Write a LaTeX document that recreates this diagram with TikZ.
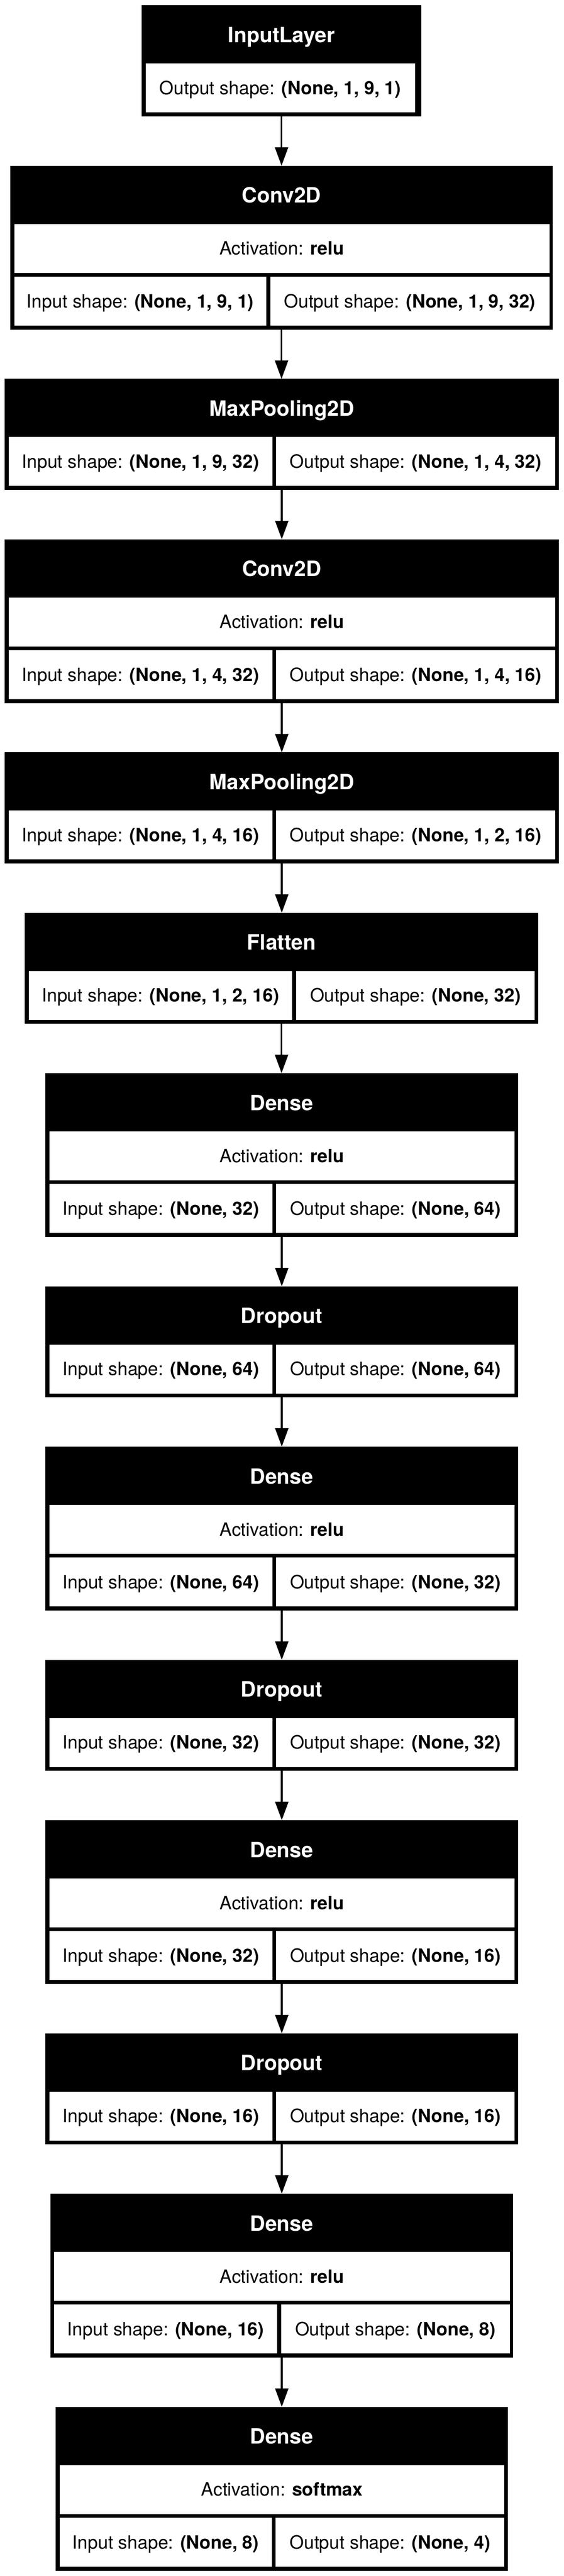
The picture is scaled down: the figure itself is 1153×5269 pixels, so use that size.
\documentclass[tikz,border=0pt]{standalone}
\usepackage{fontspec}
\setmainfont{TeX Gyre Heros}
\usetikzlibrary{fit,arrows.meta}

\tikzset{
  outerbox/.style={rectangle, fill=black, draw=none, inner sep=0pt, outer sep=0pt},
  cellbox/.style={rectangle, fill=white, draw=none, inner sep=0pt, outer sep=0pt},
  celltext/.style={inner sep=0pt, text height=9.7pt, text depth=0pt, font=\fontsize{13.5pt}{16pt}\selectfont, text=black},
  titletext/.style={inner sep=0pt, text height=11.2pt, text depth=0pt, font=\fontsize{15.5pt}{18pt}\selectfont\bfseries, text=white},
  conn/.style={draw=black, line width=1.4pt, -{Triangle[length=13.6pt,width=9.6pt]}},
}

% #1 name, #2 left, #3 right, #4 top, #5 divider, #6 title, #7 activation, #8 input, #9 output
\newcommand{\kerasthree}[9]{%
  \node[outerbox, fit={(#2,#4) (#3,{#4+335})}] (#1) {};
  \node[titletext] (#1-title) at ({(#2+#3)/2},{#4+60.5}) {#6};
  \node[cellbox, fit={({#2+8},{#4+119}) ({#3-7},{#4+219})}] (#1-actcell) {};
  \node[celltext] (#1-act) at (#1-actcell.center) {Activation: \textbf{#7}};
  \node[cellbox, fit={({#2+8},{#4+227}) (#5,{#4+327})}] (#1-incell) {};
  \node[celltext] (#1-in) at (#1-incell.center) {Input shape: \textbf{#8}};
  \node[cellbox, fit={({#5+8},{#4+227}) ({#3-7},{#4+327})}] (#1-outcell) {};
  \node[celltext] (#1-out) at (#1-outcell.center) {Output shape: \textbf{#9}};
}
% #1 name, #2 left, #3 right, #4 top, #5 divider, #6 title, #7 input, #8 output
\newcommand{\kerastwo}[8]{%
  \node[outerbox, fit={(#2,#4) (#3,{#4+227})}] (#1) {};
  \node[titletext] (#1-title) at ({(#2+#3)/2},{#4+60.5}) {#6};
  \node[cellbox, fit={({#2+8},{#4+119}) (#5,{#4+219})}] (#1-incell) {};
  \node[celltext] (#1-in) at (#1-incell.center) {Input shape: \textbf{#7}};
  \node[cellbox, fit={({#5+8},{#4+119}) ({#3-7},{#4+219})}] (#1-outcell) {};
  \node[celltext] (#1-out) at (#1-outcell.center) {Output shape: \textbf{#8}};
}

\begin{document}
\begin{tikzpicture}[x=0.36pt, y=-0.36pt]
\useasboundingbox (0,0) rectangle (1153,5269);
\fill[white] (0,0) rectangle (1153,5269);

% Input layer
\node[outerbox, fit={(290,11) (862,238)}] (input) {};
\node[titletext] (input-title) at (576,71.5) {InputLayer};
\node[cellbox, fit={(298,130) (849,230)}] (input-outcell) {};
\node[celltext] (input-out) at (input-outcell.center) {Output shape: \textbf{(None, 1, 9, 1)}};

\kerasthree{conv1}{21}{1131}{339}{545}{Conv2D}{relu}{(None, 1, 9, 1)}{(None, 1, 9, 32)}
\kerastwo{pool1}{10}{1143}{775}{557}{MaxPooling2D}{(None, 1, 9, 32)}{(None, 1, 4, 32)}
\kerasthree{conv2}{10}{1143}{1103}{557}{Conv2D}{relu}{(None, 1, 4, 32)}{(None, 1, 4, 16)}
\kerastwo{pool2}{10}{1143}{1539}{557}{MaxPooling2D}{(None, 1, 4, 16)}{(None, 1, 2, 16)}
\kerastwo{flat}{51}{1101}{1867}{598}{Flatten}{(None, 1, 2, 16)}{(None, 32)}
\kerasthree{dense1}{93}{1060}{2195}{557}{Dense}{relu}{(None, 32)}{(None, 64)}
\kerastwo{drop1}{93}{1060}{2631}{557}{Dropout}{(None, 64)}{(None, 64)}
\kerasthree{dense2}{93}{1060}{2959}{557}{Dense}{relu}{(None, 64)}{(None, 32)}
\kerastwo{drop2}{93}{1060}{3395}{557}{Dropout}{(None, 32)}{(None, 32)}
\kerasthree{dense3}{93}{1060}{3723}{557}{Dense}{relu}{(None, 32)}{(None, 16)}
\kerastwo{drop3}{93}{1060}{4159}{557}{Dropout}{(None, 16)}{(None, 16)}
\kerasthree{dense4}{103}{1050}{4487}{567}{Dense}{relu}{(None, 16)}{(None, 8)}
\kerasthree{dense5}{114}{1039}{4923}{556}{Dense}{softmax}{(None, 8)}{(None, 4)}

% connectors
\draw[conn] (input.south) -- (input.south |- conv1.north);
\draw[conn] (conv1.south) -- (conv1.south |- pool1.north);
\draw[conn] (pool1.south) -- (pool1.south |- conv2.north);
\draw[conn] (conv2.south) -- (conv2.south |- pool2.north);
\draw[conn] (pool2.south) -- (pool2.south |- flat.north);
\draw[conn] (flat.south) -- (flat.south |- dense1.north);
\draw[conn] (dense1.south) -- (dense1.south |- drop1.north);
\draw[conn] (drop1.south) -- (drop1.south |- dense2.north);
\draw[conn] (dense2.south) -- (dense2.south |- drop2.north);
\draw[conn] (drop2.south) -- (drop2.south |- dense3.north);
\draw[conn] (dense3.south) -- (dense3.south |- drop3.north);
\draw[conn] (drop3.south) -- (drop3.south |- dense4.north);
\draw[conn] (dense4.south) -- (dense4.south |- dense5.north);
\end{tikzpicture}
\end{document}
